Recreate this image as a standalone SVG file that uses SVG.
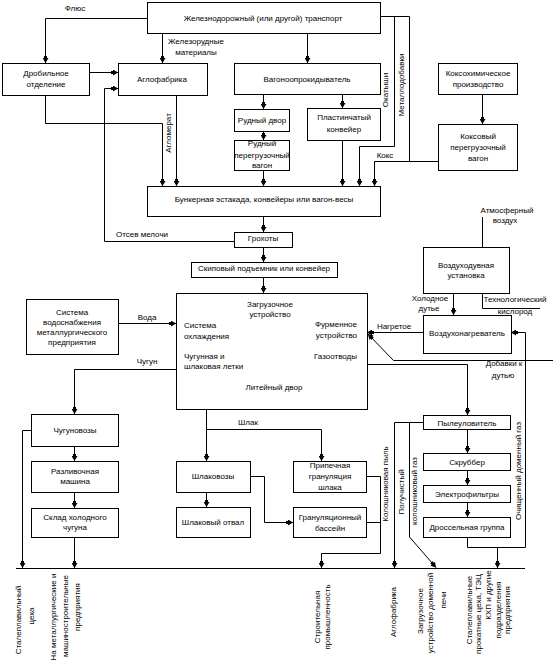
<svg xmlns="http://www.w3.org/2000/svg" width="553" height="671" viewBox="0 0 553 671">
<style>
rect{fill:#fff;stroke:#000;stroke-width:1}
text{font-family:"Liberation Sans",Arial,sans-serif;font-size:8px;fill:#000}
.m{text-anchor:middle}
.e{text-anchor:end}
.c path{fill:none;stroke:#000;stroke-width:1}
.c path.a{marker-end:url(#ar)}
</style>
<defs>
<marker id="ar" markerWidth="7" markerHeight="6" refX="7" refY="3" orient="auto" markerUnits="userSpaceOnUse"><path d="M0,1.5 H2 V0 L7,3 L2,6 V4.5 H0 z" fill="#000"/></marker>
</defs>
<rect x="0" y="0" width="553" height="671" style="stroke:none"/>
<g class="c" id="connectors">
<path class="a" d="M147.5,18.5 H45.5 V63"/>
<path class="a" d="M162.5,33 V63"/>
<path class="a" d="M307.5,33 V63"/>
<path class="a" d="M89,72.5 H118"/>
<path class="a" d="M45.5,95 V123.5 H162.5 V186"/>
<path class="a" d="M176.5,95 V186"/>
<path class="a" d="M234,241.5 H104.5 V88.5 H118"/>
<path class="a" d="M263.5,94 V109"/>
<path class="a" d="M342.5,94 V108"/>
<path class="a" d="M263.5,131 V140"/>
<path class="a" d="M263.5,170 V186"/>
<path class="a" d="M342.5,140 V186"/>
<path d="M380,16.5 H409.5 V161.5"/>
<path class="a" d="M394.5,16.5 V146.5 H359.5 V186"/>
<path class="a" d="M438,161.5 H374.5 V186"/>
<path class="a" d="M482.5,94 V124"/>
<path class="a" d="M263.5,216 V232"/>
<path class="a" d="M263.5,247 V262"/>
<path class="a" d="M263.5,277 V293"/>
<path d="M482.5,217 V247"/>
<path class="a" d="M453.5,293 V315"/>
<path d="M482.5,293 V308.5 H540"/>
<path class="a" d="M423,332.5 H367"/>
<path class="a" d="M553,360.5 H393.5 L368,334"/>
<path class="a" d="M367,364.5 H467.5 V415"/>
<path class="a" d="M467.5,429 V453"/>
<path class="a" d="M467.5,470 V485"/>
<path class="a" d="M467.5,502 V517"/>
<path class="a" d="M467.5,537 V547.5 H525.5 V332.5 H511"/>
<path class="a" d="M497.5,547.5 V568"/>
<path class="a" d="M423,422.5 H394.5 V568"/>
<path class="a" d="M409.5,422.5 V537 L436,567.5"/>
<path class="a" d="M366,476.5 H380.5 V553.5 H321.5 V568"/>
<path d="M366,522.5 H380.5"/>
<path class="a" d="M206.5,409 V461"/>
<path class="a" d="M206.5,429.5 H321.5 V461"/>
<path class="a" d="M250,476.5 H264.5 V522.5 H293"/>
<path class="a" d="M206.5,492 V507"/>
<path class="a" d="M176,369.5 H74.5 V414"/>
<path class="a" d="M118,323.5 H176"/>
<path class="a" d="M31,430.5 H22.5 V568"/>
<path class="a" d="M74.5,446 V461"/>
<path class="a" d="M74.5,492 V508"/>
<path class="a" d="M74.5,537 V568"/>
<path d="M16,568.5 H525"/>
</g>
<g id="conn-labels">
<text class="m" x="75" y="11">Флюс</text>
<text class="m" x="196" y="44">Железорудные</text>
<text class="m" x="196" y="55">материалы</text>
<text class="m" transform="translate(171,133) rotate(-90)">Агломерат</text>
<text class="m" x="142" y="237">Отсев мелочи</text>
<text class="m" transform="translate(388,90) rotate(-90)">Окатыши</text>
<text class="m" transform="translate(404,85) rotate(-90)">Металлодобавки</text>
<text class="m" x="385" y="158">Кокс</text>
<text class="m" x="507" y="213">Атмосферный</text>
<text class="m" x="505" y="223">воздух</text>
<text class="m" x="430" y="301">Холодное</text>
<text class="m" x="429" y="311">дутье</text>
<text class="m" x="515" y="302">Технологический</text>
<text class="m" x="515" y="314">кислород</text>
<text class="m" x="394" y="329">Нагретое</text>
<text class="m" x="504" y="366">Добавки к</text>
<text class="m" x="503" y="378">дутью</text>
<text class="m" x="147" y="320">Вода</text>
<text class="m" x="147" y="364">Чугун</text>
<text class="m" x="248" y="425">Шлак</text>
<text class="m" transform="translate(388,484) rotate(-90)">Колошниковая пыль</text>
<text class="m" transform="translate(404,492) rotate(-90)">Получистый</text>
<text class="m" transform="translate(417,491) rotate(-90)">колошниковый газ</text>
<text class="m" transform="translate(521,471) rotate(-90)">Очищенный доменный газ</text>
<text class="m" transform="translate(21,620) rotate(-90)">Сталеплавильный</text>
<text class="m" transform="translate(34,616) rotate(-90)">цеха</text>
<text class="m" transform="translate(56,617) rotate(-90)">На металлургические и</text>
<text class="m" transform="translate(68,616) rotate(-90)">машиностроительные</text>
<text class="m" transform="translate(80,607) rotate(-90)">предприятия</text>
<text class="m" transform="translate(320,617) rotate(-90)">Строительная</text>
<text class="m" transform="translate(330,617) rotate(-90)">промышленность</text>
<text class="m" transform="translate(396,612) rotate(-90)">Аглофабрика</text>
<text class="m" transform="translate(423,611) rotate(-90)">Загрузочное</text>
<text class="m" transform="translate(433,613) rotate(-90)">устройство доменной</text>
<text class="m" transform="translate(446,600) rotate(-90)">печи</text>
<text class="m" transform="translate(472,610) rotate(-90)">Сталеплавильные</text>
<text class="m" transform="translate(481,614) rotate(-90)">прокатные цеха, ТЭЦ</text>
<text class="m" transform="translate(491,595) rotate(-90)">КХП и другие</text>
<text class="m" transform="translate(501,610) rotate(-90)">подразделения</text>
<text class="m" transform="translate(510,610) rotate(-90)">предприятия</text>
</g>
<g id="rail"><rect x="147.5" y="2.5" width="233" height="31"/><text class="m" x="263" y="21">Железнодорожный (или другой) транспорт</text></g>
<g id="drob"><rect x="2.5" y="63.5" width="87" height="32"/><text class="m" x="46" y="76">Дробильное</text><text class="m" x="46" y="87">отделение</text></g>
<g id="aglo"><rect x="118.5" y="63.5" width="89" height="32"/><text class="m" x="162" y="82">Аглофабрика</text></g>
<g id="vagon"><rect x="234.5" y="63.5" width="146" height="31"/><text class="m" x="307" y="82">Вагоноопрокидыватель</text></g>
<g id="koksokhim"><rect x="438.5" y="63.5" width="79" height="31"/><text class="m" x="478" y="76">Коксохимическое</text><text class="m" x="478" y="87">производство</text></g>
<g id="rudny-dvor"><rect x="234.5" y="109.5" width="55" height="22"/><text class="m" x="262" y="123">Рудный двор</text></g>
<g id="rudny-vagon"><rect x="234.5" y="140.5" width="55" height="30"/><text class="m" x="262" y="146">Рудный</text><text class="m" x="262" y="158">перегрузочный</text><text class="m" x="262" y="168">вагон</text></g>
<g id="plast"><rect x="307.5" y="108.5" width="73" height="32"/><text class="m" x="344" y="120">Пластинчатый</text><text class="m" x="344" y="132">конвейер</text></g>
<g id="koks-vagon"><rect x="438.5" y="124.5" width="79" height="46"/><text class="m" x="478" y="139">Коксовый</text><text class="m" x="478" y="150">перегрузочный</text><text class="m" x="478" y="161">вагон</text></g>
<g id="bunker"><rect x="147.5" y="186.5" width="233" height="30"/><text class="m" x="264" y="202">Бункерная эстакада, конвейеры или вагон-весы</text></g>
<g id="grokh"><rect x="234.5" y="232.5" width="58" height="15"/><text class="m" x="263" y="241">Грохоты</text></g>
<g id="skip"><rect x="191.5" y="262.5" width="146" height="15"/><text class="m" x="264" y="271">Скиповый подъемник или конвейер</text></g>
<g id="vozduh"><rect x="423.5" y="247.5" width="86" height="46"/><text class="m" x="466" y="268">Воздуходувная</text><text class="m" x="466" y="278">установка</text></g>
<g id="furnace"><rect x="176.5" y="293.5" width="191" height="116"/>
<text class="m" x="270" y="307">Загрузочное</text><text class="m" x="270" y="317">устройство</text>
<text x="184" y="328">Система</text><text x="184" y="339">охлаждения</text>
<text x="184" y="359">Чугунная и</text><text x="184" y="369">шлаковая летки</text>
<text class="e" x="357" y="327">Фурменное</text><text class="e" x="357" y="338">устройство</text>
<text class="e" x="357" y="359">Газоотводы</text>
<text class="m" x="274" y="390">Литейный двор</text></g>
<g id="voda-sys"><rect x="26.5" y="299.5" width="92" height="55"/><text class="m" x="72" y="315">Система</text><text class="m" x="72" y="325">водоснабжения</text><text class="m" x="72" y="335">металлургического</text><text class="m" x="72" y="345">предприятия</text></g>
<g id="nagrev"><rect x="423.5" y="315.5" width="88" height="38"/><text class="m" x="467" y="336">Воздухонагреватель</text></g>
<g id="chugunovozy"><rect x="31.5" y="414.5" width="87" height="32"/><text class="m" x="75" y="433">Чугуновозы</text></g>
<g id="razliv"><rect x="31.5" y="461.5" width="87" height="31"/><text class="m" x="75" y="474">Разливочная</text><text class="m" x="75" y="484">машина</text></g>
<g id="sklad"><rect x="31.5" y="508.5" width="87" height="29"/><text class="m" x="75" y="520">Склад холодного</text><text class="m" x="75" y="530">чугуна</text></g>
<g id="shlakovozy"><rect x="176.5" y="461.5" width="74" height="31"/><text class="m" x="213" y="479">Шлаковозы</text></g>
<g id="otval"><rect x="176.5" y="507.5" width="74" height="30"/><text class="m" x="213" y="525">Шлаковый отвал</text></g>
<g id="pripech"><rect x="293.5" y="461.5" width="73" height="31"/><text class="m" x="330" y="468">Припечная</text><text class="m" x="330" y="479">грануляция</text><text class="m" x="330" y="490">шлака</text></g>
<g id="granbas"><rect x="293.5" y="507.5" width="73" height="30"/><text class="m" x="330" y="520">Грануляционный</text><text class="m" x="330" y="531">бассейн</text></g>
<g id="pyle"><rect x="423.5" y="415.5" width="87" height="14"/><text class="m" x="467" y="426">Пылеуловитель</text></g>
<g id="skrub"><rect x="423.5" y="453.5" width="87" height="17"/><text class="m" x="467" y="465">Скруббер</text></g>
<g id="elektro"><rect x="423.5" y="485.5" width="87" height="17"/><text class="m" x="467" y="497">Электрофильтры</text></g>
<g id="drossel"><rect x="423.5" y="517.5" width="87" height="20"/><text class="m" x="467" y="530">Дроссельная группа</text></g>
</svg>
